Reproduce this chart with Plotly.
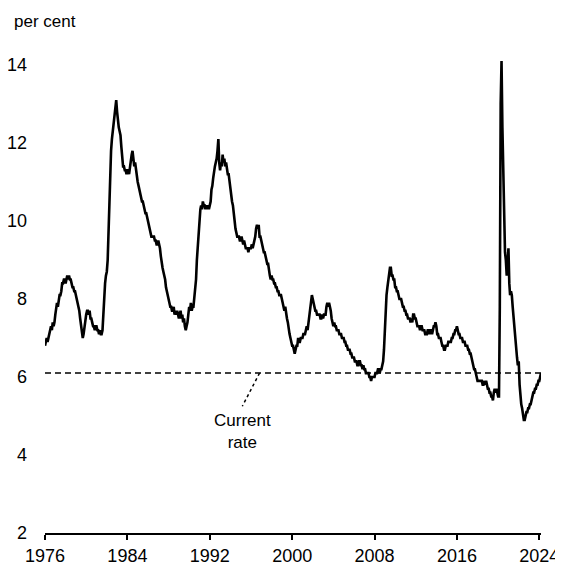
import plotly.graph_objects as go
import pandas as pd

# Monthly unemployment rate, per cent (Jan 1976 - Mar 2024)
rate = [
    6.8, 6.9, 7.0, 6.9, 7.0, 7.1, 7.2, 7.3, 7.2, 7.4, 7.3, 7.4,  # 1976
    7.6, 7.8, 7.9, 7.8, 8.0, 8.1, 8.1, 8.2, 8.4, 8.4, 8.5, 8.5,  # 1977
    8.4, 8.5, 8.6, 8.5, 8.6, 8.5, 8.5, 8.4, 8.3, 8.3, 8.2, 8.2,  # 1978
    8.1, 8.0, 7.9, 7.8, 7.7, 7.5, 7.3, 7.1, 7.0, 7.1, 7.3, 7.5,  # 1979
    7.6, 7.7, 7.7, 7.6, 7.7, 7.5, 7.5, 7.4, 7.3, 7.3, 7.2, 7.3,  # 1980
    7.3, 7.2, 7.2, 7.1, 7.2, 7.1, 7.1, 7.2, 7.6, 8.2, 8.4, 8.6,  # 1981
    8.7, 9.0, 9.8, 10.6, 11.3, 11.8, 12.1, 12.3, 12.5, 12.7, 12.9, 13.1,  # 1982
    12.8, 12.5, 12.4, 12.3, 12.2, 11.9, 11.6, 11.4, 11.4, 11.3, 11.3, 11.2,  # 1983
    11.3, 11.3, 11.2, 11.4, 11.5, 11.7, 11.8, 11.6, 11.4, 11.5, 11.3, 11.2,  # 1984
    11.0, 10.9, 10.8, 10.7, 10.6, 10.5, 10.5, 10.4, 10.3, 10.2, 10.2, 10.1,  # 1985
    10.0, 9.9, 9.8, 9.7, 9.6, 9.6, 9.6, 9.6, 9.5, 9.5, 9.4, 9.4,  # 1986
    9.5, 9.4, 9.3, 9.1, 8.9, 8.8, 8.7, 8.6, 8.5, 8.3, 8.2, 8.1,  # 1987
    8.0, 7.9, 7.8, 7.8, 7.7, 7.7, 7.8, 7.6, 7.7, 7.6, 7.7, 7.6,  # 1988
    7.5, 7.6, 7.7, 7.5, 7.6, 7.4, 7.5, 7.3, 7.2, 7.3, 7.4, 7.6,  # 1989
    7.8, 7.7, 7.9, 7.7, 7.8, 7.8, 8.0, 8.2, 8.5, 9.0, 9.4, 9.8,  # 1990
    10.1, 10.3, 10.4, 10.3, 10.5, 10.4, 10.4, 10.3, 10.4, 10.3, 10.4, 10.3,  # 1991
    10.4, 10.5, 10.8, 10.9, 11.1, 11.3, 11.4, 11.5, 11.6, 11.8, 12.1, 11.5,  # 1992
    11.3, 11.5, 11.4, 11.7, 11.5, 11.6, 11.4, 11.5, 11.3, 11.2, 11.2, 11.0,  # 1993
    10.8, 10.6, 10.5, 10.4, 10.1, 10.0, 9.8, 9.7, 9.6, 9.6, 9.6, 9.5,  # 1994
    9.5, 9.6, 9.5, 9.4, 9.5, 9.4, 9.3, 9.3, 9.3, 9.2, 9.3, 9.3,  # 1995
    9.3, 9.4, 9.3, 9.4, 9.5, 9.6, 9.8, 9.9, 9.8, 9.9, 9.6, 9.6,  # 1996
    9.5, 9.4, 9.3, 9.2, 9.2, 9.1, 9.0, 8.9, 8.9, 8.7, 8.6, 8.5,  # 1997
    8.6, 8.5, 8.5, 8.4, 8.4, 8.3, 8.3, 8.2, 8.2, 8.1, 8.1, 8.1,  # 1998
    8.0, 7.9, 7.8, 7.7, 7.8, 7.6, 7.5, 7.4, 7.2, 7.1, 7.0, 6.9,  # 1999
    6.8, 6.8, 6.7, 6.6, 6.7, 6.8, 6.8, 7.0, 6.9, 6.9, 7.0, 7.0,  # 2000
    7.0, 7.1, 7.1, 7.1, 7.2, 7.3, 7.2, 7.4, 7.5, 7.8, 8.0, 8.1,  # 2001
    8.0, 7.9, 7.8, 7.7, 7.7, 7.6, 7.6, 7.6, 7.6, 7.5, 7.5, 7.6,  # 2002
    7.5, 7.6, 7.6, 7.6, 7.8, 7.9, 7.8, 7.9, 7.8, 7.7, 7.5, 7.4,  # 2003
    7.3, 7.4, 7.3, 7.3, 7.2, 7.2, 7.2, 7.1, 7.1, 7.1, 7.0, 7.0,  # 2004
    7.0, 6.9, 6.9, 6.8, 6.8, 6.7, 6.7, 6.7, 6.6, 6.6, 6.5, 6.5,  # 2005
    6.5, 6.4, 6.4, 6.4, 6.3, 6.3, 6.4, 6.4, 6.3, 6.3, 6.2, 6.3,  # 2006
    6.2, 6.2, 6.1, 6.1, 6.1, 6.1, 6.0, 6.0, 5.9, 6.0, 6.0, 6.0,  # 2007
    6.0, 6.1, 6.1, 6.1, 6.2, 6.2, 6.1, 6.2, 6.2, 6.3, 6.4, 6.7,  # 2008
    7.3, 7.8, 8.1, 8.3, 8.5, 8.7, 8.8, 8.8, 8.6, 8.6, 8.5, 8.5,  # 2009
    8.3, 8.3, 8.2, 8.2, 8.1, 8.0, 8.0, 8.0, 7.9, 7.8, 7.8, 7.7,  # 2010
    7.7, 7.6, 7.6, 7.5, 7.5, 7.5, 7.4, 7.5, 7.4, 7.6, 7.6, 7.5,  # 2011
    7.5, 7.4, 7.3, 7.3, 7.3, 7.2, 7.3, 7.3, 7.2, 7.2, 7.2, 7.1,  # 2012
    7.1, 7.1, 7.2, 7.2, 7.1, 7.2, 7.2, 7.1, 7.2, 7.3, 7.3, 7.4,  # 2013
    7.3, 7.1, 7.1, 7.0, 7.0, 7.0, 6.9, 6.8, 6.8, 6.7, 6.7, 6.8,  # 2014
    6.8, 6.8, 6.9, 6.9, 6.9, 6.9, 7.0, 7.0, 7.1, 7.1, 7.2, 7.2,  # 2015
    7.3, 7.2, 7.1, 7.1, 7.0, 7.0, 7.0, 6.9, 6.9, 6.9, 6.8, 6.8,  # 2016
    6.8, 6.7, 6.7, 6.6, 6.6, 6.5, 6.4, 6.3, 6.2, 6.2, 6.1, 6.0,  # 2017
    5.9, 5.9, 5.9, 5.9, 5.9, 5.9, 5.8, 5.8, 5.9, 5.8, 5.9, 5.8,  # 2018
    5.7, 5.7, 5.6, 5.6, 5.5, 5.5, 5.4, 5.6, 5.7, 5.6, 5.7, 5.6,  # 2019
    5.5, 5.5, 7.8, 13.0, 14.1, 12.4, 11.0, 10.2, 9.2, 9.0, 8.6, 8.9,  # 2020
    9.3, 8.4, 8.1, 8.2, 8.1, 7.8, 7.5, 7.2, 7.0, 6.8, 6.5, 6.3,  # 2021
    6.4, 5.8, 5.4, 5.3, 5.2, 5.0, 4.9, 4.9, 5.0, 5.1, 5.1, 5.2,  # 2022
    5.2, 5.3, 5.3, 5.4, 5.5, 5.6, 5.6, 5.7, 5.7, 5.8, 5.8, 5.9,  # 2023
    5.9, 6.0, 6.1,  # 2024
]
dates = pd.date_range("1976-01-01", periods=len(rate), freq="MS")

current_rate = 6.1
tick_years = [1976, 1984, 1992, 2000, 2008, 2016, 2024]
y_ticks = [2, 4, 6, 8, 10, 12, 14]

FONT = "Liberation Sans, Arial, sans-serif"

fig = go.Figure()
fig.add_trace(go.Scatter(
    x=dates, y=rate, mode="lines",
    line=dict(color="black", width=2.6),
    hoverinfo="skip", showlegend=False
))

# current rate reference line
fig.add_trace(go.Scatter(
    x=[dates[0], dates[-1]], y=[current_rate, current_rate], mode="lines",
    line=dict(color="black", width=1.5, dash="6px,4px"),
    hoverinfo="skip", showlegend=False
))

# dotted leader to the label
fig.add_shape(type="line", x0="1996-11-01", y0=current_rate,
              x1="1995-03-01", y1=5.25,
              line=dict(color="black", width=1.5, dash="dot"))

fig.add_annotation(x="1995-03-01", y=4.6, text="Current<br>rate",
                   showarrow=False, xanchor="center", yanchor="middle",
                   font=dict(size=17, color="black", family=FONT))

fig.add_annotation(xref="paper", yref="paper", x=-0.066, y=1.008,
                   text="per cent", showarrow=False,
                   xanchor="left", yanchor="middle",
                   font=dict(size=17, color="black", family=FONT))

fig.update_xaxes(
    type="date",
    range=["1976-01-01", "2024-03-01"],
    tickvals=[f"{y}-01-01" for y in tick_years],
    ticktext=[str(y) for y in tick_years],
    showline=True, linecolor="black", linewidth=2,
    ticks="outside", ticklen=5, tickwidth=2, tickcolor="black",
    showgrid=False, zeroline=False, automargin=False,
    tickfont=dict(size=18, color="black", family=FONT),
)
fig.update_yaxes(
    range=[2, 15],
    tickvals=y_ticks,
    showline=False, showgrid=False, zeroline=False, ticks="",
    ticklabelstandoff=17, automargin=False,
    tickfont=dict(size=18, color="black", family=FONT),
)

# page body adds an 8px margin, so the figure is sized to fit the window
fig.update_layout(
    width=555, height=557,
    margin=dict(l=37, r=22, t=18, b=32),
    plot_bgcolor="white", paper_bgcolor="white",
    font=dict(family=FONT, color="black"),
)

fig.write_html("out.html")
